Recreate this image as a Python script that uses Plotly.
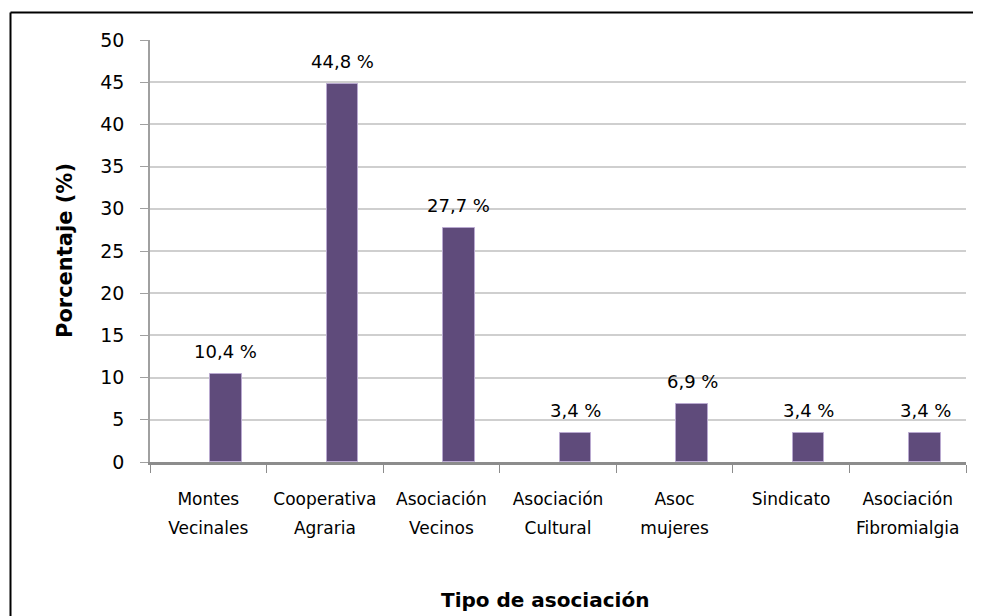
import plotly.graph_objects as go

categories = ["Montes Vecinales", "Cooperativa Agraria", "Asociación Vecinos",
              "Asociación Cultural", "Asoc mujeres", "Sindicato", "Asociación Fibromialgia"]
tick_labels = ["Montes<br>Vecinales", "Cooperativa<br>Agraria", "Asociación<br>Vecinos",
               "Asociación<br>Cultural", "Asoc<br>mujeres", "Sindicato", "Asociación<br>Fibromialgia"]
values = [10.4, 44.8, 27.7, 3.4, 6.9, 3.4, 3.4]
value_labels = ["10,4 %", "44,8 %", "27,7 %", "3,4 %", "6,9 %", "3,4 %", "3,4 %"]
y_ticks = [0, 5, 10, 15, 20, 25, 30, 35, 40, 45, 50]

FONT = "DejaVu Sans"
OFF = 8  # default body margin of the page
W, H = 981 - OFF, 616 - OFF
ML, MR, MT, MB = 150 - OFF, 15, 40 - OFF, 154
plot_w = W - ML - MR
plot_h = H - MT - MB
cat_px = plot_w / len(categories)
BAR_W = 0.27
BAR_OFF = 0.015


def px_x(x):
    return (x - OFF - ML) / plot_w


def px_y(y):
    return (MT + plot_h - (y - OFF)) / plot_h


fig = go.Figure()
fig.add_trace(go.Bar(
    x=categories, y=values,
    width=BAR_W, offset=BAR_OFF,
    marker=dict(color="#5F4B7B", line=dict(color="#B9A9D0", width=1)),
    hoverinfo="skip",
))

styled_ticks = ["<br>".join(f"<span style='font-size:17px'>{p}</span>" for p in t.split("<br>"))
                for t in tick_labels]

annotations = []
for c, v, lab in zip(categories, values, value_labels):
    annotations.append(dict(
        x=c, y=v, xref="x", yref="y", text=lab, showarrow=False,
        xanchor="center", yanchor="bottom",
        xshift=(BAR_OFF + BAR_W / 2) * cat_px, yshift=10,
        font=dict(family=FONT, size=18, color="#000000"),
    ))

annotations.append(dict(
    x=px_x(545), y=px_y(600), xref="paper", yref="paper",
    text="<b>Tipo de asociación</b>", showarrow=False, xanchor="center", yanchor="middle",
    font=dict(family=FONT, size=20, color="#000000"),
))
annotations.append(dict(
    x=px_x(65), y=0.5, xref="paper", yref="paper",
    text="<b>Porcentaje (%)</b>", showarrow=False, xanchor="center", yanchor="middle",
    textangle=-90, font=dict(family=FONT, size=21, color="#000000"),
))

# outer chart border (top and left edges visible)
bx = px_x(10.5)
by = px_y(12.5)
fig.add_shape(type="line", xref="paper", yref="paper", x0=bx, x1=1.2, y0=by, y1=by,
              line=dict(color="#000000", width=2))
fig.add_shape(type="line", xref="paper", yref="paper", x0=bx, x1=bx, y0=by, y1=-0.6,
              line=dict(color="#000000", width=2))

fig.update_layout(
    width=W, height=H,
    margin=dict(l=ML, r=MR, t=MT, b=MB),
    paper_bgcolor="#FFFFFF", plot_bgcolor="#FFFFFF",
    showlegend=False,
    font=dict(family=FONT, color="#000000"),
    annotations=annotations,
    bargap=0,
)
fig.update_xaxes(
    type="category", tickmode="array", tickvals=categories, ticktext=styled_ticks,
    range=[-0.5, len(categories) - 0.5],
    tickson="boundaries", ticks="outside", ticklen=8, tickcolor="#8C8C8C", tickwidth=1,
    showline=True, linecolor="#8C8C8C", linewidth=3,
    showgrid=False, tickfont=dict(family=FONT, size=22, color="#000000"),
    ticklabelstandoff=14, fixedrange=True,
)
fig.update_yaxes(
    range=[0, 50], tickmode="array", tickvals=y_ticks, ticktext=[str(t) for t in y_ticks],
    ticks="outside", ticklen=8, tickcolor="#A0A0A0", tickwidth=1,
    showline=True, linecolor="#A0A0A0", linewidth=1.5,
    showgrid=True, gridcolor="#CFCFCF", gridwidth=1.5, zeroline=False,
    tickfont=dict(family=FONT, size=19, color="#000000"),
    ticklabelstandoff=12, fixedrange=True,
)

fig.write_html("out.html")
